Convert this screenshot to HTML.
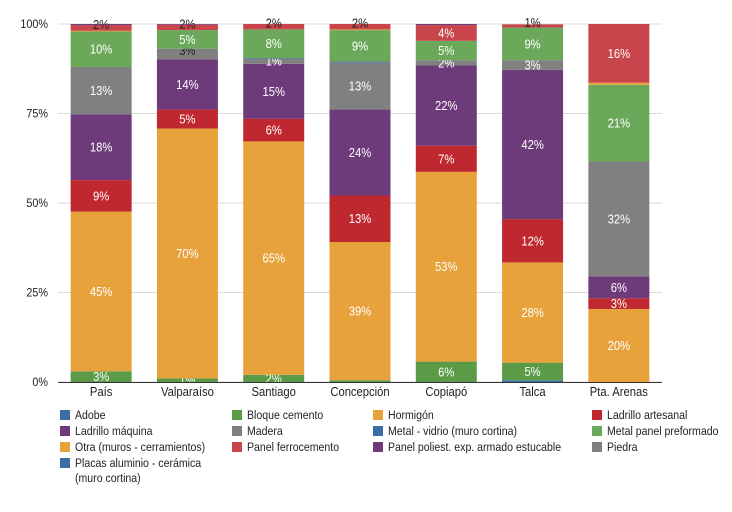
<!DOCTYPE html>
<html><head><meta charset="utf-8"><style>
body{margin:0;background:#fff;width:732px;height:507px;overflow:hidden;font-family:"Liberation Sans",sans-serif}
svg text{font-family:"Liberation Sans",sans-serif}
</style></head><body>
<svg id="chart" width="732" height="507" xmlns="http://www.w3.org/2000/svg"></svg>
<script>
const categories = ["País","Valparaíso","Santiago","Concepción","Copiapó","Talca","Pta. Arenas"];
const seriesNames = ["Adobe","Bloque cemento","Hormigón","Ladrillo artesanal","Ladrillo máquina","Madera","Metal - vidrio (muro cortina)","Metal panel preformado","Otra (muros - cerramientos)","Panel ferrocemento","Panel poliest. exp. armado estucable","Piedra","Placas aluminio - cerámica (muro cortina)"];
const adobe       = [0,   0,    0,    0,    0,    0.5,  0];
const bloque      = [3,   1.0,  2.0,  0.5,  5.7,  4.9,  0];
const hormigon    = [44.6,69.8, 65.2, 38.6, 53.0, 28.0, 20.4];
const ladArt      = [8.8, 5.3,  6.3,  13.0, 7.3,  12.1, 3.0];
const ladMaq      = [18.4,14.0, 15.4, 24.0, 22.4, 41.7, 6.1];
const madera      = [13.2,3.0,  1.4,  13.1, 1.5,  2.7,  32.1];
const metalVidrio = [0,   0,    0.2,  0.3,  0,    0,    0];
const metalPanel  = [9.9, 5.2,  8.0,  8.8,  5.4,  9.1,  21.4];
const otra        = [0.2, 0,    0,    0.2,  0,    0,    0.6];
const ferro       = [1.6, 1.5,  1.5,  1.5,  4.4,  0.9,  16.4];
const poliest     = [0.3, 0.2,  0,    0,    0.3,  0,    0];
const piedra      = [0,0,0,0,0,0,0];
const placas      = [0,0,0,0,0,0,0];
const yTicks = [0,25,50,75,100];
const tickLabels = ["0%","25%","50%","75%","100%"];

const series=[adobe,bloque,hormigon,ladArt,ladMaq,madera,metalVidrio,metalPanel,otra,ferro,poliest,piedra,placas];
const colors=["#3c6ea6","#5b9a47","#e8a23c","#c0282f","#6e3b7a","#808080","#3c6ea6","#6ba85a","#e8a23c","#c8464b","#6e3b7a","#808080","#3c6ea6"];
const X0=58,X1=662,Y0=382,Y1=24,bw=61;
const band=(X1-X0)/categories.length;
const xc=i=>X0+band*(i+0.5);
const y=v=>Y0-(Y0-Y1)*v/100;
const svg=document.getElementById('chart');
const NS="http://www.w3.org/2000/svg";
function mk(tag,attrs,parent){const e=document.createElementNS(NS,tag);for(const k in attrs)e.setAttribute(k,attrs[k]);(parent||svg).appendChild(e);return e;}

yTicks.forEach((t,i)=>{
  const g=mk('line',{x1:X0,x2:X1,y1:y(t),y2:y(t),stroke:"#d9d9d9","stroke-width":1});
  
  
  const tx=mk('text',{x:48,y:y(t)+4,"text-anchor":"end","font-size":12,fill:"#222",transform:`translate(48,0) scale(0.9,1) translate(-48,0)`});
  tx.textContent=tickLabels[i];
  
  
});

categories.forEach((c,i)=>{
  let cum=0;
  series.forEach((s,k)=>{
    const v=s[i];
    if(v<=0)return;
    const top=y(cum+v),bot=y(cum);
    const r=mk('rect',{x:xc(i)-bw/2,y:top,width:bw,height:Math.max(bot-top,0.5),fill:colors[k]});
    
    
    if(v>=0.9){
      const small=(bot-top)<12;
      const dark=small&&(cum+v)>91;
      const ty=dark?(top+bot)/2+1:(top+bot)/2+4.5;
      const t=mk('text',{x:xc(i),y:ty,"text-anchor":"middle","font-size":12.5,fill:dark?"#222":"#fff",transform:`translate(${xc(i)},0) scale(0.9,1) translate(${-xc(i)},0)`});
      t.textContent=Math.round(v)+"%";
      
      
    }
    cum+=v;
  });
  const cl=mk('text',{x:xc(i),y:396,"text-anchor":"middle","font-size":12.5,fill:"#222",transform:`translate(${xc(i)},0) scale(0.9,1) translate(${-xc(i)},0)`});
  cl.textContent=c;
  
  
});
const ax=mk('line',{x1:X0,x2:X1,y1:Y0+0.5,y2:Y0+0.5,stroke:"#333","stroke-width":1});



const colX=[60,232,373,592];
seriesNames.forEach((n,k)=>{
  const col=k%4,row=Math.floor(k/4);
  const lx=colX[col],ly=410+row*16;
  const tf=`translate(${lx+15},0) scale(0.88,1) translate(${-(lx+15)},0)`;
  const sq=mk('rect',{x:lx,y:ly,width:10,height:10,fill:colors[k]});
  
  
  if(k===12){
    const t=mk('text',{x:lx+15,y:ly+9,"font-size":12,fill:"#222",transform:tf});
    t.textContent="Placas aluminio - cerámica";
    
    
    const t2=mk('text',{x:lx+15,y:ly+24,"font-size":12,fill:"#222",transform:tf});
    t2.textContent="(muro cortina)";
    
    
  } else {
    const t=mk('text',{x:lx+15,y:ly+9,"font-size":12,fill:"#222",transform:tf});
    t.textContent=n;
    
    
  }
});
</script>
</body></html>
